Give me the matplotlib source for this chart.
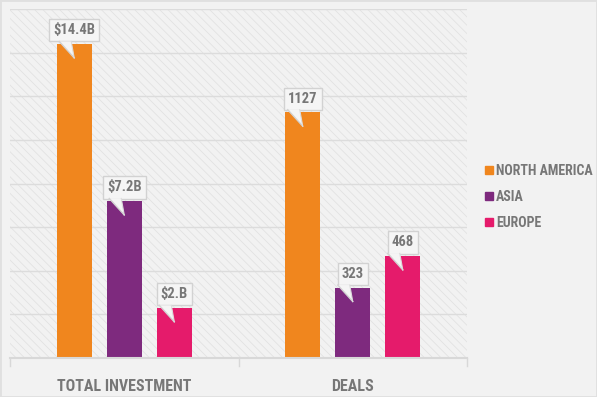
import matplotlib
matplotlib.use('Agg')
import matplotlib.pyplot as plt
from matplotlib.patches import Rectangle, Polygon
from matplotlib.lines import Line2D
from matplotlib.transforms import IdentityTransform
from matplotlib import font_manager

# data
categories = ['TOTAL INVESTMENT', 'DEALS']
regions = ['NORTH AMERICA', 'ASIA', 'EUROPE']
investment = [14.4, 7.2, 2.3]          # $ billions
deals = [1127, 323, 468]                # number of deals
deal_scale = 100                        # deals are drawn as count / 100
inv_labels = ['$14.4B', '$7.2B', '$2.B']
deal_labels = ['1127', '323', '468']
colors = ['#f0861e', '#7e2a7e', '#e51b6b']

# pick a narrow face if one exists
fonts = font_manager.fontManager.ttflist
FONT, STRETCH = 'DejaVu Sans', 'condensed'
for want in ['Roboto Condensed', 'Open Sans Condensed', 'Liberation Sans Narrow']:
    if any(f.name == want for f in fonts):
        FONT, STRETCH = want, 'normal'
        break

TXT = '#777777'
BG = '#f2f2f2'
fkw = dict(fontfamily=FONT, fontstretch=STRETCH, fontweight='bold', color=TXT)

plt.rcParams['hatch.linewidth'] = 0.5

fig = plt.figure(figsize=(5.97, 3.97), dpi=100, facecolor=BG)
W, H = 597, 397
ax = fig.add_axes([10 / W, (H - 358) / H, 457 / W, 349 / H])
ax.set_facecolor('none')
ax.set_xlim(-0.5, 1.5)
ax.set_ylim(0, 16)

# hatched background
ax.add_patch(Rectangle((0, 0), 1, 1, transform=ax.transAxes, fc=BG, ec='#e0e0e0',
                       hatch='\\\\\\\\', lw=0, zorder=0))
for y in range(2, 17, 2):
    ax.axhline(y, color='#dcdcdc', lw=1, zorder=1)
for s in ax.spines.values():
    s.set_visible(False)
ax.axhline(0, color='#d8d8d8', lw=1.5, zorder=3, clip_on=False)
for xb in [-0.5, 0.5, 1.5]:
    ax.plot([xb, xb], [0, -0.35], color='#d8d8d8', lw=1, clip_on=False, zorder=3)
ax.set_xticks([])
ax.set_yticks([])

values = [investment, [d / deal_scale for d in deals]]
labels = [inv_labels, deal_labels]
bw = 0.1535
offs = [-0.219, 0, 0.219]

for ci, cat in enumerate(categories):
    for si in range(3):
        x = ci + offs[si]
        v = values[ci][si]
        ax.bar(x, v, width=bw, color=colors[si], zorder=2)
        # callout label
        px, py = ax.transData.transform((x, v))
        ax.annotate(labels[ci][si], xy=(x, v), xytext=(0, 13.5), textcoords='offset pixels',
                    ha='center', va='center', fontsize=10.5, zorder=5,
                    bbox=dict(boxstyle='square,pad=0.28', fc='#f5f5f5', ec='#d2d2d2', lw=1),
                    **fkw)
        tail = Polygon([(px - 15, py + 2.5), (px - 3, py + 2.5), (px, py - 14)],
                       closed=True, transform=IdentityTransform(), fc='#f5f5f5',
                       ec='none', zorder=6)
        fig.add_artist(tail)
        fig.add_artist(Line2D([px - 15, px], [py + 2.5, py - 14], color='#d2d2d2', lw=1,
                              transform=IdentityTransform(), zorder=7))
        fig.add_artist(Line2D([px - 3, px], [py + 2.5, py - 14], color='#dcdcdc', lw=0.8,
                              transform=IdentityTransform(), zorder=7))
    ax.text(ci, -1.3, cat, ha='center', va='center', fontsize=11.5, **fkw)

handles = [Line2D([], [], marker='s', ls='none', color=c, markersize=6) for c in colors]
leg = fig.legend(handles, regions, loc='center left', bbox_to_anchor=(483 / W, 1 - 197 / H),
                 frameon=False, handlelength=0.8, handletextpad=0.15, labelspacing=0.85,
                 borderpad=0, borderaxespad=0,
                 prop=dict(family=FONT, stretch=STRETCH, size=10, weight='bold'))
for t in leg.get_texts():
    t.set_color(TXT)

fig.add_artist(Rectangle((0, 0), 1, 1, transform=fig.transFigure, fc='none',
                         ec='#e0e0e0', lw=2))
fig.savefig('out.png', dpi=100, facecolor=BG)
